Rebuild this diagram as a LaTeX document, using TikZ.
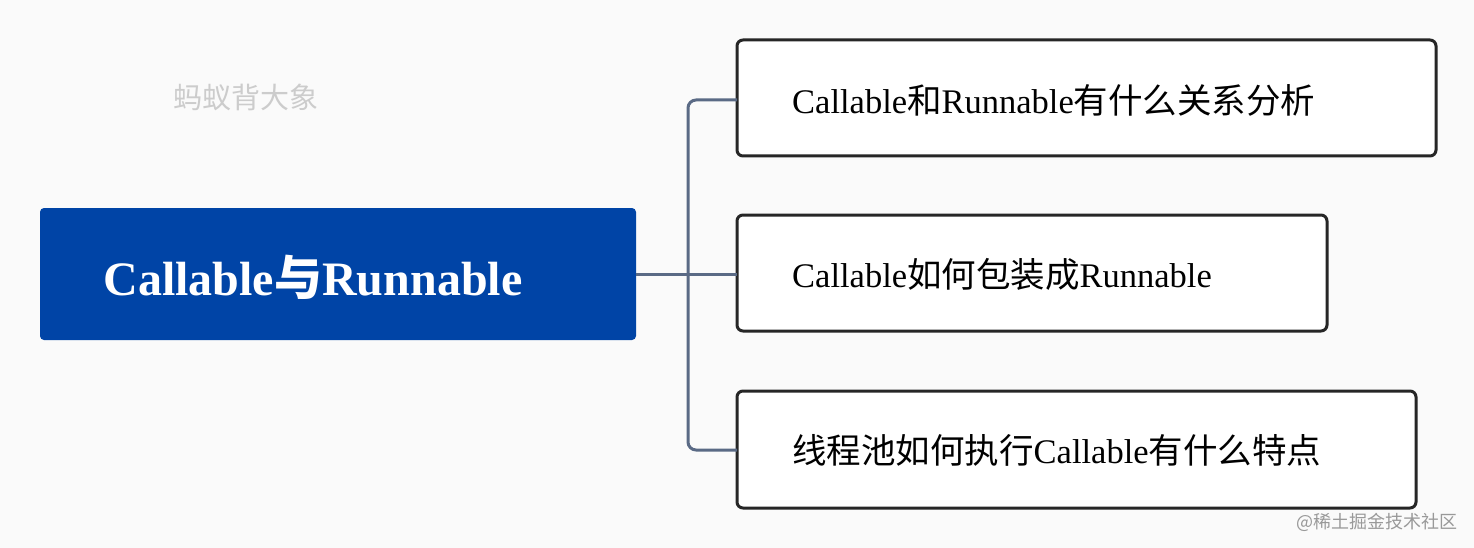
\documentclass[tikz,border=0pt]{standalone}
\usepackage{fontspec}
\setmainfont{Liberation Serif}
\newfontfamily\cjk{Noto Sans CJK SC}
\begin{document}
\begin{tikzpicture}[x=1pt,y=-1pt,
  child/.style={draw=black!85,line width=3pt,rounded corners=6pt,fill=white},
  txt/.style={anchor=west,font=\fontsize{34.5}{38}\selectfont,inner sep=0},
  conn/.style={draw={rgb,255:red,90;green,106;blue,133},line width=3pt,rounded corners=8pt}]
\fill[white!98!black] (0,0) rectangle (1474,548);
\useasboundingbox (0,0) rectangle (1474,548);
\node[fill={rgb,255:red,0;green,68;blue,166},rounded corners=4pt,minimum width=596pt,minimum height=132pt,inner sep=0] (root) at (338,274) {};
\node[font=\fontsize{48}{52}\selectfont\bfseries,text=white,inner sep=0] (rt) at (313,277) {Callable{\cjk 与}Runnable};
\draw[child] (737,40) rectangle (1436,156);
\draw[child] (737,215) rectangle (1327,331);
\draw[child] (737,391) rectangle (1416,508);
\coordinate (b1) at (737,100);
\coordinate (b2) at (737,274);
\coordinate (b3) at (737,450);
\node[txt] (t1) at (792,100) {Callable{\cjk 和}Runnable{\cjk 有什么关系分析}};
\node[txt] (t2) at (792,274) {Callable{\cjk 如何包装成}Runnable};
\node[txt] (t3) at (792,450) {{\cjk 线程池如何执行}Callable{\cjk 有什么特点}};
\draw[conn] (b1) -- (688,100) -- (688,450) -- (b3);
\draw[conn] (root.east) -- (b2);
\node[font=\cjk\fontsize{29}{31}\selectfont,text=black!20,inner sep=0] (w1) at (246,97) {蚂蚁背大象};
\node[font=\cjk\fontsize{18}{20}\selectfont,text=black!40,anchor=east,inner sep=0] (w2) at (1458,522) {@稀土掘金技术社区};
\end{tikzpicture}
\end{document}
